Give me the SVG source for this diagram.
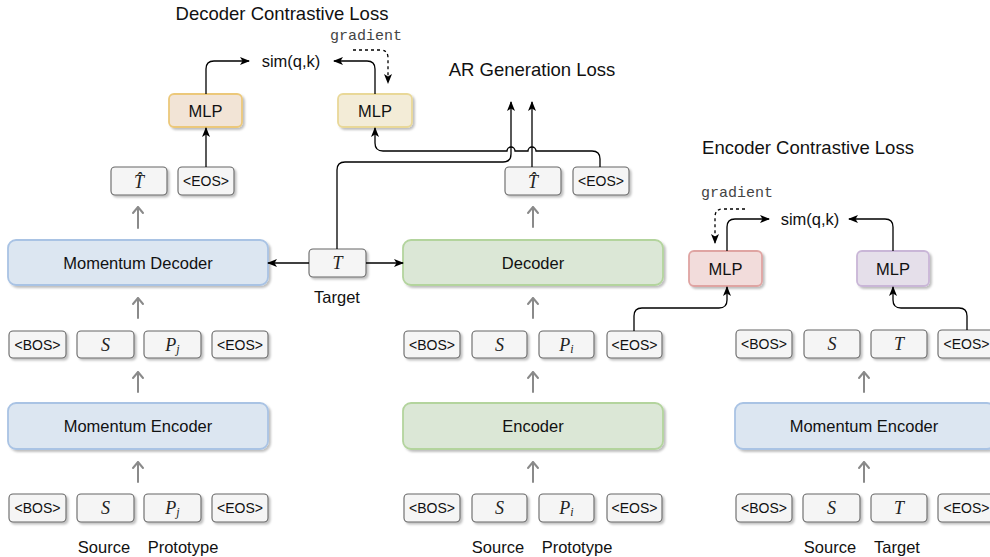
<svg xmlns="http://www.w3.org/2000/svg" width="990" height="557" viewBox="0 0 990 557">
<defs>
<filter id="sh" x="-10%" y="-10%" width="130%" height="140%">
<feDropShadow dx="2" dy="2" stdDeviation="0.9" flood-color="#000" flood-opacity="0.25"/>
</filter>
<marker id="ah" markerWidth="10" markerHeight="10" viewBox="0 0 10 10" refX="9" refY="5" orient="auto" markerUnits="userSpaceOnUse">
<path d="M0,1 L10,5 L0,9 L2.5,5 Z" fill="#000"/>
</marker>
<marker id="ahd" markerWidth="10" markerHeight="10" viewBox="0 0 10 10" refX="9" refY="5" orient="auto" markerUnits="userSpaceOnUse">
<path d="M0,1 L10,5 L0,9 L2.5,5 Z" fill="#000"/>
</marker>
</defs>
<style>
.tok rect{fill:#f5f5f5;stroke:#666;stroke-width:1.1;filter:url(#sh)}
.tt{font-family:"Liberation Sans",Arial,sans-serif;font-size:14px;fill:#111;text-anchor:middle;dominant-baseline:central}
.mt{font-family:"Liberation Serif","Times New Roman",serif;font-style:italic;font-size:18px;fill:#222;text-anchor:middle;dominant-baseline:central}
.lbl{font-family:"Liberation Sans",Arial,sans-serif;font-size:16.5px;fill:#111;text-anchor:middle;dominant-baseline:central}
.ttl{font-family:"Liberation Sans",Arial,sans-serif;font-size:18.5px;fill:#111;text-anchor:middle;dominant-baseline:central}
.mono{font-family:"Liberation Mono","Courier New",monospace;font-size:15px;fill:#444;text-anchor:middle;dominant-baseline:central}
.blue{fill:#dce6f1;stroke:#a9c3e4;stroke-width:1.8;filter:url(#sh)}
.green{fill:#dbe7d6;stroke:#b3d49d;stroke-width:1.8;filter:url(#sh)}
.mlp-o{fill:#f2e4d6;stroke:#ecc87a;stroke-width:1.8;filter:url(#sh)}
.mlp-y{fill:#f3ecd7;stroke:#e9d898;stroke-width:1.8;filter:url(#sh)}
.mlp-r{fill:#f2dcdb;stroke:#dfa4a2;stroke-width:1.8;filter:url(#sh)}
.mlp-p{fill:#e5dfea;stroke:#c9b6d7;stroke-width:1.8;filter:url(#sh)}
.con{fill:none;stroke:#000;stroke-width:1.3}
.dash{fill:none;stroke:#000;stroke-width:1.3;stroke-dasharray:3,3}
.gr{fill:none;stroke:#8a8a8a;stroke-width:2;stroke-linecap:round;stroke-linejoin:round}
</style>

<!-- titles / labels -->
<g id="labels">
<text class="ttl" x="282" y="13">Decoder Contrastive Loss</text>
<text class="ttl" x="532" y="69">AR Generation Loss</text>
<text class="ttl" x="808" y="147">Encoder Contrastive Loss</text>
<text class="lbl" x="291" y="61">sim(q,k)</text>
<text class="lbl" x="810" y="219">sim(q,k)</text>
<text class="mono" x="366" y="36">gradient</text>
<text class="mono" x="737" y="193">gradient</text>
<text class="lbl" x="337" y="297">Target</text>
<text class="lbl" x="104" y="547">Source</text>
<text class="lbl" x="183" y="547">Prototype</text>
<text class="lbl" x="498" y="547">Source</text>
<text class="lbl" x="577" y="547">Prototype</text>
<text class="lbl" x="830" y="547">Source</text>
<text class="lbl" x="897" y="547">Target</text>
</g>

<!-- MLP nodes -->
<g id="mlp-dec-q"><rect class="mlp-o" x="169" y="94" width="73" height="33" rx="5"/><text class="lbl" x="205.5" y="110.5">MLP</text></g>
<g id="mlp-dec-k"><rect class="mlp-y" x="338" y="94" width="74" height="33" rx="5"/><text class="lbl" x="375" y="110.5">MLP</text></g>
<g id="mlp-enc-q"><rect class="mlp-r" x="689" y="251" width="73" height="35" rx="5"/><text class="lbl" x="725.5" y="268.5">MLP</text></g>
<g id="mlp-enc-k"><rect class="mlp-p" x="857" y="251" width="72" height="35" rx="5"/><text class="lbl" x="893" y="268.5">MLP</text></g>

<!-- big boxes -->
<g id="momentum-decoder"><rect class="blue" x="8" y="240" width="260" height="45" rx="8"/><text class="lbl" x="138" y="262.5">Momentum Decoder</text></g>
<g id="momentum-encoder-left"><rect class="blue" x="8" y="403" width="260" height="46" rx="8"/><text class="lbl" x="138" y="426">Momentum Encoder</text></g>
<g id="decoder"><rect class="green" x="403" y="240" width="260" height="45" rx="8"/><text class="lbl" x="533" y="262.5">Decoder</text></g>
<g id="encoder"><rect class="green" x="403" y="403" width="260" height="46" rx="8"/><text class="lbl" x="533" y="426">Encoder</text></g>
<g id="momentum-encoder-right"><rect class="blue" x="735" y="403" width="260" height="46" rx="8"/><text class="lbl" x="864" y="426">Momentum Encoder</text></g>

<!-- target token -->
<g id="target-T" class="tok"><rect x="309" y="249" width="57" height="28" rx="4"/><text class="mt" x="337.5" y="263">T</text></g>

<!-- left upper output tokens -->
<g id="left-out" class="tok">
<rect x="111" y="167" width="56" height="28" rx="4"/><text class="mt" x="139" y="182">T̂</text>
<rect x="178" y="167" width="56" height="28" rx="4"/><text class="tt" x="206" y="181">&lt;EOS&gt;</text>
</g>
<!-- mid upper output tokens -->
<g id="mid-out" class="tok">
<rect x="505" y="167" width="56" height="28" rx="4"/><text class="mt" x="533" y="182">T̂</text>
<rect x="573" y="167" width="56" height="28" rx="4"/><text class="tt" x="601" y="181">&lt;EOS&gt;</text>
</g>

<!-- left token rows -->
<g id="left-dec-in" class="tok">
<rect x="9" y="331" width="57" height="27" rx="4"/><text class="tt" x="37.5" y="344.5">&lt;BOS&gt;</text>
<rect x="77" y="331" width="57" height="27" rx="4"/><text class="mt" x="105.5" y="344.5">S</text>
<rect x="144" y="331" width="57" height="27" rx="4"/><text class="mt" x="172.5" y="344.5">P<tspan font-size="12" dy="4">j</tspan></text>
<rect x="212" y="331" width="56" height="27" rx="4"/><text class="tt" x="240" y="344.5">&lt;EOS&gt;</text>
</g>
<g id="left-enc-in" class="tok">
<rect x="9" y="494" width="57" height="28" rx="4"/><text class="tt" x="37.5" y="508">&lt;BOS&gt;</text>
<rect x="77" y="494" width="57" height="28" rx="4"/><text class="mt" x="105.5" y="508">S</text>
<rect x="144" y="494" width="57" height="28" rx="4"/><text class="mt" x="172.5" y="508">P<tspan font-size="12" dy="4">j</tspan></text>
<rect x="212" y="494" width="56" height="28" rx="4"/><text class="tt" x="240" y="508">&lt;EOS&gt;</text>
</g>

<!-- mid token rows -->
<g id="mid-dec-in" class="tok">
<rect x="404" y="331" width="56" height="27" rx="4"/><text class="tt" x="432" y="344.5">&lt;BOS&gt;</text>
<rect x="472" y="331" width="55" height="27" rx="4"/><text class="mt" x="499.5" y="344.5">S</text>
<rect x="539" y="331" width="55" height="27" rx="4"/><text class="mt" x="566.5" y="344.5">P<tspan font-size="12" dy="4">i</tspan></text>
<rect x="607" y="331" width="55" height="27" rx="4"/><text class="tt" x="634.5" y="344.5">&lt;EOS&gt;</text>
</g>
<g id="mid-enc-in" class="tok">
<rect x="404" y="494" width="56" height="28" rx="4"/><text class="tt" x="432" y="508">&lt;BOS&gt;</text>
<rect x="472" y="494" width="55" height="28" rx="4"/><text class="mt" x="499.5" y="508">S</text>
<rect x="539" y="494" width="55" height="28" rx="4"/><text class="mt" x="566.5" y="508">P<tspan font-size="12" dy="4">i</tspan></text>
<rect x="607" y="494" width="55" height="28" rx="4"/><text class="tt" x="634.5" y="508">&lt;EOS&gt;</text>
</g>

<!-- right token rows -->
<g id="right-enc-out" class="tok">
<rect x="736" y="330" width="56" height="28" rx="4"/><text class="tt" x="764" y="344">&lt;BOS&gt;</text>
<rect x="804" y="330" width="56" height="28" rx="4"/><text class="mt" x="832" y="344">S</text>
<rect x="871" y="330" width="56" height="28" rx="4"/><text class="mt" x="899" y="344">T</text>
<rect x="938" y="330" width="57" height="28" rx="4"/><text class="tt" x="966.5" y="344">&lt;EOS&gt;</text>
</g>
<g id="right-enc-in" class="tok">
<rect x="736" y="494" width="56" height="28" rx="4"/><text class="tt" x="764" y="508">&lt;BOS&gt;</text>
<rect x="803" y="494" width="57" height="28" rx="4"/><text class="mt" x="831.5" y="508">S</text>
<rect x="871" y="494" width="56" height="28" rx="4"/><text class="mt" x="899" y="508">T</text>
<rect x="938" y="494" width="57" height="28" rx="4"/><text class="tt" x="966.5" y="508">&lt;EOS&gt;</text>
</g>

<!-- connectors -->
<g id="connectors">
<!-- gray flow arrows -->
<path class="gr" d="M138,228 V207 M133,213 L138,207 L143,213"/>
<path class="gr" d="M138,318 V298 M133,304 L138,298 L143,304"/>
<path class="gr" d="M138,392 V372 M133,378 L138,372 L143,378"/>
<path class="gr" d="M138,482 V462 M133,468 L138,462 L143,468"/>
<path class="gr" d="M533,227 V207 M528,213 L533,207 L538,213"/>
<path class="gr" d="M533,318 V298 M528,304 L533,298 L538,304"/>
<path class="gr" d="M533,392 V372 M528,378 L533,372 L538,378"/>
<path class="gr" d="M533,482 V462 M528,468 L533,462 L538,468"/>
<path class="gr" d="M864,392 V372 M859,378 L864,372 L869,378"/>
<path class="gr" d="M864,482 V462 M859,468 L864,462 L869,468"/>

<!-- decoder contrastive -->
<path class="con" d="M206,167 V128" marker-end="url(#ah)"/>
<path class="con" d="M206,94 V69 Q206,61 214,61 H249" marker-end="url(#ah)"/>
<path class="con" d="M375,94 V69 Q375,61 367,61 H334" marker-end="url(#ah)"/>
<path class="dash" d="M353,50 H380 Q388,50 388,58 V83" marker-end="url(#ahd)"/>
<path class="con" d="M600,167 V159 Q600,151 592,151 H536 A4,4 0 0 0 528,151 H515 A4,4 0 0 0 507,151 H383 Q375,151 375,143 V128" marker-end="url(#ah)"/>

<!-- target -->
<path class="con" d="M309,263 H268" marker-end="url(#ah)"/>
<path class="con" d="M366,263 H403" marker-end="url(#ah)"/>
<path class="con" d="M337,249 V170 Q337,162 345,162 H503 Q511,162 511,154 V102" marker-end="url(#ah)"/>
<path class="con" d="M532,167 V102" marker-end="url(#ah)"/>

<!-- encoder contrastive -->
<path class="con" d="M634,331 V316 Q634,308 642,308 H719 Q727,308 727,300 V287" marker-end="url(#ah)"/>
<path class="con" d="M967,330 V316 Q967,308 959,308 H901 Q893,308 893,300 V287" marker-end="url(#ah)"/>
<path class="con" d="M727,251 V227 Q727,219 735,219 H769" marker-end="url(#ah)"/>
<path class="con" d="M893,251 V227 Q893,219 885,219 H849" marker-end="url(#ah)"/>
<path class="dash" d="M745,209 H723 Q715,209 715,217 V243" marker-end="url(#ahd)"/>
</g>
</svg>
